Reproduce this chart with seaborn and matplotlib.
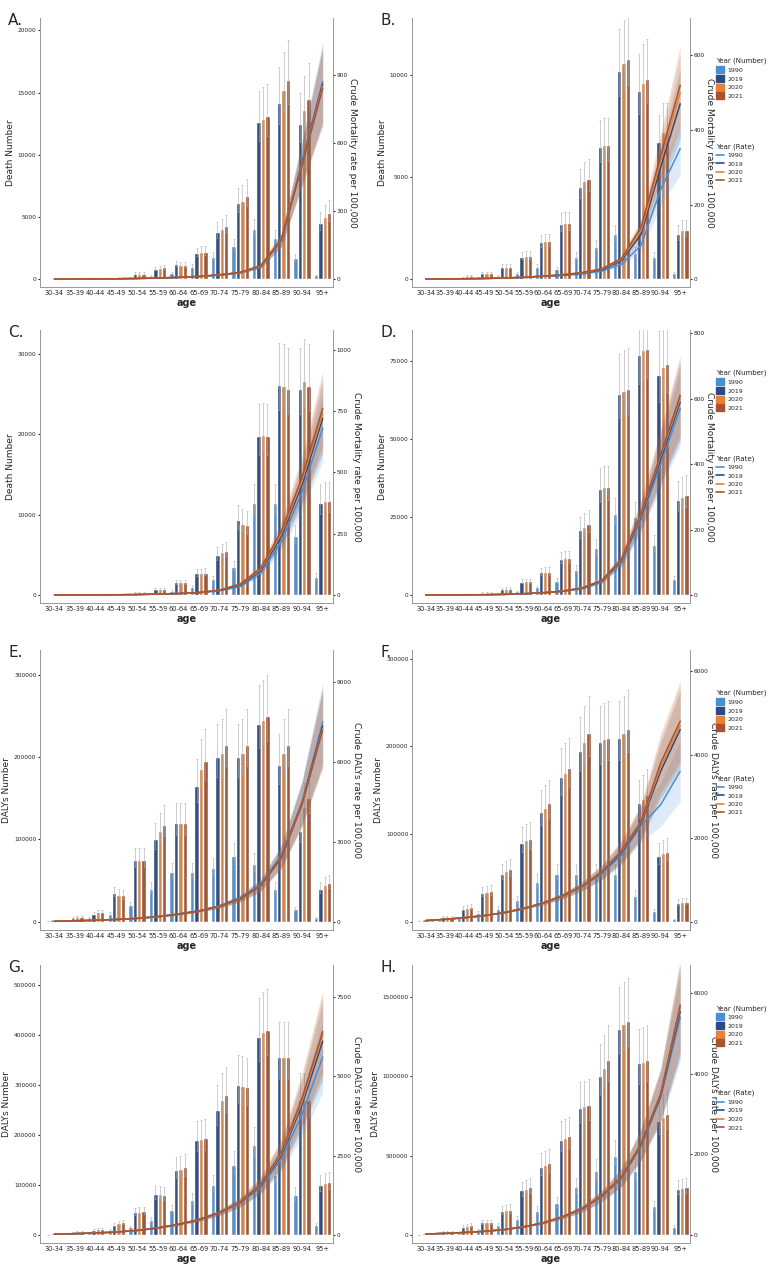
import numpy as np
import pandas as pd
import matplotlib
matplotlib.use("Agg")
import matplotlib.pyplot as plt
import seaborn as sns
from matplotlib.patches import Patch
from matplotlib.lines import Line2D

sns.set_style("white")
plt.rcParams['font.family'] = ['DejaVu Sans']

ages = ["30-34","35-39","40-44","45-49","50-54","55-59","60-64","65-69","70-74","75-79","80-84","85-89","90-94","95+"]
years = ["1990", "2019", "2020", "2021"]
colors = ["#4a8fd4", "#2b4a86", "#e8823a", "#a9532d"]

# ---- bar values (numbers) per panel: 1990, 2019, 2020, 2021 ----
A_num = [[0,0,0,0,150,250,500,1000,1800,2700,4000,3300,1700,300],
         [0,0,0,100,450,800,1200,2100,3800,6100,12600,14200,12500,4500],
         [0,0,0,150,450,900,1150,2200,4000,6300,12900,15200,13600,5000],
         [0,0,0,150,450,950,1150,2200,4300,6700,13100,16000,14500,5300]]
B_num = [[0,0,0,100,150,300,600,500,1100,1600,2200,1300,1100,300],
         [0,50,100,300,600,1100,1800,2700,4500,6500,10200,9200,6700,2200],
         [0,50,150,300,600,1150,1850,2750,4800,6600,10600,9600,7200,2400],
         [0,50,150,300,600,1150,1850,2750,4900,6600,10800,9800,7200,2400]]
C_num = [[0,0,0,0,100,200,500,1000,2000,3500,11500,11500,7300,2300],
         [0,0,50,100,300,700,1600,2700,5000,9300,19800,26200,25600,11500],
         [0,0,50,100,300,700,1600,2700,5300,8900,19900,26000,26600,11700],
         [0,0,50,100,300,700,1600,2800,5500,8700,19800,25600,26000,11700]]
D_num = [[0,0,100,200,600,1200,2500,4500,8000,15000,26000,25000,16000,5000],
         [0,100,300,800,2000,4300,7300,11500,20800,34000,64500,77000,70500,30500],
         [0,100,300,800,2100,4400,7400,11800,21800,34500,65500,78500,73000,31500],
         [0,100,300,800,2100,4400,7400,11800,22800,34500,66000,79000,74000,32000]]
E_num = [[500,2000,5000,10000,20000,40000,60000,60000,65000,80000,70000,40000,15000,5000],
         [2000,5000,10000,35000,75000,100000,120000,165000,200000,200000,240000,190000,110000,40000],
         [2000,6000,12000,33000,75000,110000,120000,185000,205000,205000,245000,205000,140000,45000],
         [2000,6000,12000,32000,75000,118000,120000,195000,215000,215000,250000,215000,150000,47000]]
F_num = [[500,2000,5000,10000,15000,25000,45000,55000,55000,55000,55000,30000,12000,3000],
         [2000,6000,15000,33000,55000,90000,125000,165000,195000,205000,210000,135000,75000,22000],
         [2000,6000,16000,34000,58000,93000,130000,170000,205000,208000,215000,140000,78000,23000],
         [2000,6000,17000,35000,60000,95000,135000,175000,215000,210000,220000,145000,80000,23000]]
G_num = [[500,2000,5000,10000,15000,30000,50000,70000,100000,140000,180000,120000,80000,20000],
         [2000,5000,10000,20000,45000,82000,130000,190000,250000,300000,395000,355000,270000,100000],
         [2000,6000,11000,23000,46000,81000,132000,192000,270000,298000,405000,355000,270000,103000],
         [2000,6000,12000,25000,47000,80000,135000,193000,280000,295000,410000,355000,270000,105000]]
H_num = [[2000,5000,15000,30000,60000,100000,150000,200000,300000,400000,500000,400000,180000,50000],
         [5000,20000,50000,80000,150000,280000,430000,600000,800000,1000000,1300000,1080000,720000,290000],
         [5000,20000,55000,80000,155000,290000,440000,610000,810000,1050000,1330000,1090000,740000,295000],
         [5000,20000,60000,80000,160000,300000,450000,620000,820000,1100000,1350000,1100000,760000,300000]]

# ---- rate values per panel: 1990, 2019, 2020, 2021 ----
A_rate = [[0.2,0.4,0.8,1.5,3,5,8,12,18,28,55,170,520,870],
          [0.2,0.4,0.8,1.5,3,5,8,12,19,29,57,172,510,860],
          [0.2,0.4,0.8,1.5,3,5,8,12,19,29,58,174,505,850],
          [0.2,0.4,0.8,1.5,3,5,8,12,19,30,60,175,500,840]]
B_rate = [[0.2,0.4,0.8,1.5,3,5,8,10,14,22,40,90,240,350],
          [0.2,0.4,1,2,3,5,8,11,16,25,50,120,300,470],
          [0.2,0.4,1,2,3,5,8,12,17,27,53,130,315,500],
          [0.2,0.5,1,2,3,5,8,12,18,28,55,140,330,520]]
C_rate = [[0,0.2,0.5,1,2,4,6,10,18,35,90,220,420,680],
          [0,0.2,0.5,1,2,4,6,10,19,40,100,240,450,720],
          [0,0.2,0.5,1,2,4,6,10,20,43,105,250,465,740],
          [0,0.2,0.5,1,2,4,6,10,20,45,110,260,480,760]]
D_rate = [[0,0.2,0.5,1,2,4,7,12,20,40,100,230,400,570],
          [0,0.2,0.5,1,2,4,7,12,21,43,105,240,415,590],
          [0,0.2,0.5,1,2,4,7,12,22,44,108,245,425,600],
          [0,0.2,0.5,1,2,4,7,12,22,45,110,250,430,610]]
E_rate = [[20,40,60,90,130,200,300,420,600,900,1400,2500,4500,7500],
          [20,40,60,90,130,195,290,410,590,880,1380,2450,4450,7350],
          [20,40,60,90,130,192,285,405,585,860,1360,2420,4420,7250],
          [20,40,60,90,130,190,280,400,580,850,1350,2400,4400,7200]]
F_rate = [[30,60,100,150,220,320,450,620,850,1150,1600,2300,2800,3600],
          [30,60,100,150,220,320,450,620,850,1180,1650,2350,3600,4600],
          [30,60,100,150,220,320,450,620,850,1190,1680,2380,3700,4700],
          [30,60,100,150,220,320,450,620,850,1200,1700,2400,3800,4800]]
G_rate = [[20,40,60,90,140,220,330,480,700,1000,1500,2400,3800,5600],
          [20,40,60,90,140,220,330,480,700,1020,1550,2500,4100,6100],
          [20,40,60,90,140,220,330,480,700,1030,1580,2550,4200,6300],
          [20,40,60,90,140,220,330,480,700,1040,1600,2600,4300,6400]]
H_rate = [[20,40,60,90,130,200,300,450,650,950,1400,2200,3400,5400],
          [20,40,60,90,130,200,300,450,650,960,1420,2230,3450,5550],
          [20,40,60,90,130,200,300,450,650,970,1430,2250,3480,5650],
          [20,40,60,90,130,200,300,450,650,980,1440,2260,3500,5700]]

panels = [
    ("A.", A_num, A_rate, "Death Number", "Crude Mortality rate per 100,000", [0,5000,10000,15000,20000], 21000, [0,300,600,900], 1150),
    ("B.", B_num, B_rate, "Death Number", "Crude Mortality rate per 100,000", [0,5000,10000], 12800, [0,200,400,600], 700),
    ("C.", C_num, C_rate, "Death Number", "Crude Mortality rate per 100,000", [0,10000,20000,30000], 33000, [0,250,500,750,1000], 1080),
    ("D.", D_num, D_rate, "Death Number", "Crude Mortality rate per 100,000", [0,25000,50000,75000], 85000, [0,200,400,600,800], 810),
    ("E.", E_num, E_rate, "DALYs Number", "Crude DALYs rate per 100,000", [0,100000,200000,300000], 330000, [0,3000,6000,9000], 10200),
    ("F.", F_num, F_rate, "DALYs Number", "Crude DALYs rate per 100,000", [0,100000,200000,300000], 310000, [0,2000,4000,6000], 6500),
    ("G.", G_num, G_rate, "DALYs Number", "Crude DALYs rate per 100,000", [0,100000,200000,300000,400000,500000], 540000, [0,2500,5000,7500], 8500),
    ("H.", H_num, H_rate, "DALYs Number", "Crude DALYs rate per 100,000", [0,500000,1000000,1500000], 1700000, [0,2000,4000,6000], 6700),
]

W, H = 776, 1280
fig = plt.figure(figsize=(W/100, H/100), dpi=100)
rows_px = [(18, 287), (330, 603), (650, 930), (965, 1243)]
cols_px = [(40, 333), (412, 690)]

err_frac = 0.2
band_frac = 0.2

for i, (lab, num, rate, ylab, rlab, lt, ltop, rt, rtop) in enumerate(panels):
    r, c = divmod(i, 2)
    y0, y1 = rows_px[r]; x0, x1 = cols_px[c]
    ax = fig.add_axes([x0/W, 1-y1/H, (x1-x0)/W, (y1-y0)/H])
    df = pd.DataFrame([(a, y, num[k][j]) for k, y in enumerate(years) for j, a in enumerate(ages)],
                      columns=["age", "year", "value"])
    sns.barplot(data=df, x="age", y="value", hue="year", palette=colors, ax=ax,
                errorbar=None, width=0.85, legend=False, order=ages, hue_order=years)
    for p in ax.patches:
        h = p.get_height()
        if h > 0:
            cx = p.get_x() + p.get_width()/2
            ax.errorbar(cx, h, yerr=[[h*err_frac*0.6], [h*err_frac]], color="#aaaaaa",
                        lw=0.4, capsize=0.8, capthick=0.4)
    ax.set_ylim(-0.03*ltop, ltop)
    ax.set_yticks(lt)
    ax.set_yticklabels([str(v) for v in lt], fontsize=4.2)
    ax.set_xticks(range(len(ages)))
    ax.set_xticklabels(ages, fontsize=4.8)
    ax.set_xlim(-0.7, 13.5)
    ax.set_xlabel("age", fontsize=7, fontweight="bold", labelpad=1)
    ax.set_ylabel(ylab, fontsize=6.5, labelpad=2)
    ax.tick_params(length=1.5, pad=1)
    ax.spines["top"].set_visible(False)
    for s in ["left", "right", "bottom"]:
        ax.spines[s].set_color("#999999"); ax.spines[s].set_linewidth(0.6)

    ax2 = ax.twinx()
    xs = np.arange(len(ages))
    for k, y in enumerate(years):
        rv = np.array(rate[k], dtype=float)
        ax2.fill_between(xs, rv*(1-band_frac*xs/13), rv*(1+band_frac*xs/13), color=colors[k], alpha=0.18, lw=0)
        sns.lineplot(x=xs, y=rv, color=colors[k], lw=1.1, ax=ax2, legend=False)
    ax2.set_ylim(-0.03*rtop, rtop)
    ax2.set_yticks(rt)
    ax2.set_yticklabels([str(v) for v in rt], fontsize=4.2)
    ax2.set_ylabel(rlab, fontsize=6.5, rotation=270, labelpad=7)
    ax2.tick_params(length=1.5, pad=1)
    ax2.spines["top"].set_visible(False)
    for s in ["left", "right", "bottom"]:
        ax2.spines[s].set_color("#999999"); ax2.spines[s].set_linewidth(0.6)

    fig.text((x0-32)/W, 1-(y0-5)/H, lab, fontsize=11, va="top", ha="left")

    if c == 1:
        h1 = [Patch(color=col) for col in colors]
        fig.legend(h1, years, title="Year (Number)", loc="upper left",
                   bbox_to_anchor=(716/W, 1-(y0+40)/H), frameon=False,
                   fontsize=4.5, title_fontsize=5, handlelength=1.3, handleheight=1.3,
                   labelspacing=0.3, alignment="left", borderpad=0, borderaxespad=0,
                   handletextpad=0.5)
        h2 = [Line2D([0], [0], color=col, lw=1.2) for col in colors]
        fig.legend(h2, years, title="Year (Rate)", loc="upper left",
                   bbox_to_anchor=(716/W, 1-(y0+125)/H), frameon=False,
                   fontsize=4.5, title_fontsize=5, handlelength=1.3,
                   labelspacing=0.5, alignment="left", borderpad=0, borderaxespad=0,
                   handletextpad=0.5)

fig.savefig("out.png", dpi=100)
